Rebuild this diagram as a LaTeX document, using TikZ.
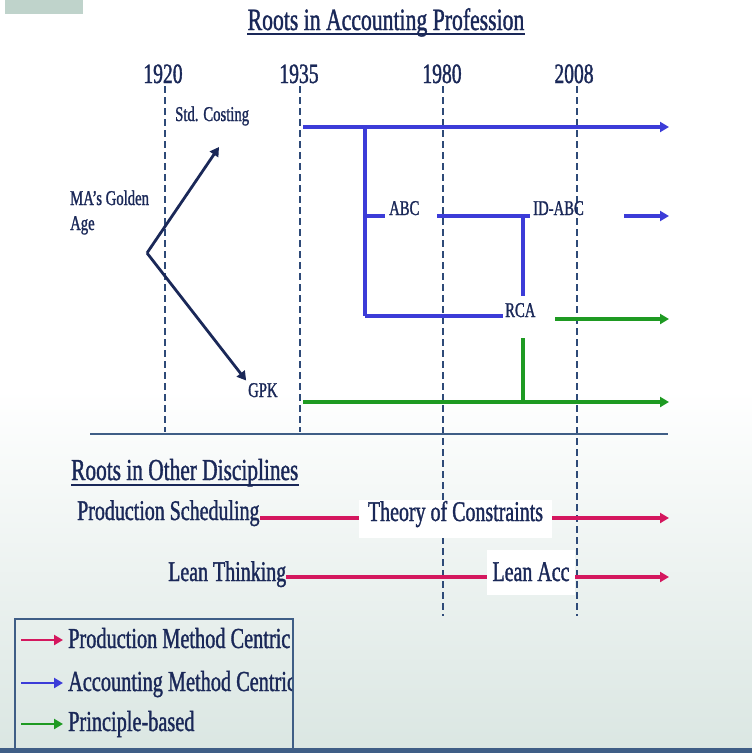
\documentclass[tikz,border=0pt]{standalone}
\usepackage{fontspec}
\setmainfont{Liberation Serif}[FakeStretch=0.7,FakeBold=1.2]
\usetikzlibrary{arrows.meta,calc}
\definecolor{navy}{HTML}{1A2858}
\definecolor{dashc}{HTML}{2E4A78}
\definecolor{bluec}{HTML}{3C3CD8}
\definecolor{grnc}{HTML}{1E9A22}
\definecolor{pnkc}{HTML}{D4175E}
\definecolor{rulec}{HTML}{3F5E86}
\definecolor{bgc}{HTML}{DAE6E2}
\definecolor{tlc}{HTML}{BFD3CB}
\newcommand\myfs[1]{\fontsize{#1}{#1}\selectfont}
\begin{document}
\begin{tikzpicture}[x=1pt,y=-1pt,
  txt/.style={inner sep=0pt, text=navy, anchor=base west},
  ctxt/.style={inner sep=0pt, text=navy, anchor=base},
  wbox/.style={inner sep=0pt, text=navy, anchor=base, fill=white},
  arr/.style={-{Triangle[length=9pt,width=10pt]}},
  blu/.style={draw=bluec, line width=3.3pt},
  grn/.style={draw=grnc, line width=3.3pt},
  pnk/.style={draw=pnkc, line width=3.3pt},
  nav/.style={draw=navy, line width=2.8pt},
  dsh/.style={draw=dashc, line width=1.2pt, dash pattern=on 7pt off 4pt},
  small/.style={font=\myfs{21}},
  mid/.style={font=\myfs{28.5}}]
\useasboundingbox (0,0) rectangle (752,753);
\fill[white] (0,0) rectangle (752,753);
\shade[top color=white, bottom color=bgc] (0,390) rectangle (752,753);
\fill[tlc] (5,0) rectangle (83,14);
\fill[rulec] (0,748) rectangle (752,753);

% title
\node[ctxt, font=\myfs{31}] (title) at (386,30) {Roots in Accounting Profession};
\draw[navy, line width=1.4pt] ($(title.base west)+(0,4)$) -- ($(title.base east)+(0,4)$);

% years
\node[ctxt, font=\myfs{28}] (y1920) at (163,83) {1920};
\node[ctxt, font=\myfs{28}] (y1935) at (299,83) {1935};
\node[ctxt, font=\myfs{28}] (y1980) at (442,83) {1980};
\node[ctxt, font=\myfs{28}] (y2008) at (574,83) {2008};

% dashed year lines
\coordinate (d1t) at (165,86); \coordinate (d1b) at (165,432);
\coordinate (d2t) at (300,86); \coordinate (d2b) at (300,432);
\coordinate (d3t) at (443,86); \coordinate (d3b) at (443,616);
\coordinate (d4t) at (577,86); \coordinate (d4b) at (577,616);
\draw[dsh] (d1t) -- (d1b);
\draw[dsh] (d2t) -- (d2b);
\draw[dsh] (d3t) -- (d3b);
\draw[dsh] (d4t) -- (d4b);

% rule
\coordinate (rl) at (90,434); \coordinate (rr) at (668,434);
\draw[rulec, line width=2.6pt] (rl) -- (rr);

% left labels
\node[txt, small] (std) at (175,121) {Std. Costing};
\node[txt, small, align=left] (mag) at (70,230) {MA’s Golden\\[4pt]Age};
\node[txt, small] (gpk) at (248,397) {GPK};
\coordinate (v) at (147,253);
\coordinate (stdtip) at (219,147);
\draw[nav, arr] (v) -- (stdtip);
\draw[nav, arr, shorten >=3pt] (v) -- (gpk.north west);

% blue / green structure
\node[txt, small] (abc) at (389,215) {ABC};
\node[txt, small] (idabc) at (533,215) {ID-ABC};
\node[txt, small] (rca) at (505,317) {RCA};

\coordinate (bs) at (303,127); \coordinate (be) at (669,127);
\draw[blu, arr] (bs) -- (be);
\coordinate (j1) at (365,127); \coordinate (j2) at (365,316); \coordinate (j3) at (365,216);
\draw[blu] (j1) -- (j2);
\draw[blu, shorten >=4pt] (j3) -- (abc.west |- j3);
\coordinate (k1) at (437,216);
\draw[blu, shorten >=3pt] (k1) -- (idabc.west |- k1);
\coordinate (k3) at (523,216); \coordinate (k4) at (523,296);
\draw[blu] (k3) -- (k4);
\coordinate (k5) at (624,216); \coordinate (k6) at (669,216);
\draw[blu, arr] (k5) -- (k6);
\draw[blu, shorten >=2pt] (j2) -- (rca.west |- j2);

\coordinate (g1) at (555,319); \coordinate (g2) at (669,319);
\draw[grn, arr] (g1) -- (g2);
\coordinate (g3) at (523,338); \coordinate (g4) at (523,402);
\draw[grn] (g3) -- (g4);
\coordinate (g5) at (303,402); \coordinate (g6) at (669,402);
\draw[grn, arr] (g5) -- (g6);

% other disciplines
\node[txt, font=\myfs{30.5}] (od) at (71,480) {Roots in Other Disciplines};
\draw[navy, line width=1.4pt] ($(od.base west)+(0,5)$) -- ($(od.base east)+(0,5)$);

\node[txt, mid] (ps) at (77,520) {Production Scheduling};
\node[wbox, mid, text height=21pt, text depth=17pt, minimum width=193pt] (toc) at (455.5,521) {Theory of Constraints};
\coordinate (p1) at (669,518);
\draw[pnk] (ps.east |- p1) -- (toc.west |- p1);
\draw[pnk, arr] (toc.east |- p1) -- (p1);

\node[txt, mid] (lt) at (168,581) {Lean Thinking};
\node[wbox, mid, text height=31pt, text depth=14pt, minimum width=88pt] (la) at (531,581) {Lean Acc};
\coordinate (p2) at (669,577);
\draw[pnk] (lt.east |- p2) -- (la.west |- p2);
\draw[pnk, arr] (la.east |- p2) -- (p2);

% legend
\draw[rulec, line width=1.4pt] (15,619) rectangle (293,770);
\begin{scope}
\clip (16,620) rectangle (292,747);
\node[txt, font=\myfs{29}] (l1) at (68,648) {Production Method Centric};
\node[txt, font=\myfs{29}] (l2) at (68,691) {Accounting Method Centric};
\node[txt, font=\myfs{29}] (l3) at (68,731) {Principle-based};
\end{scope}
\coordinate (a1) at (21,640); \coordinate (a2) at (21,683); \coordinate (a3) at (21,724);
\draw[pnk, line width=2.6pt, arr, shorten >=5pt] (a1) -- (l1.west |- a1);
\draw[blu, line width=2.6pt, arr, shorten >=5pt] (a2) -- (l2.west |- a2);
\draw[grn, line width=2.6pt, arr, shorten >=5pt] (a3) -- (l3.west |- a3);
\end{tikzpicture}
\end{document}
